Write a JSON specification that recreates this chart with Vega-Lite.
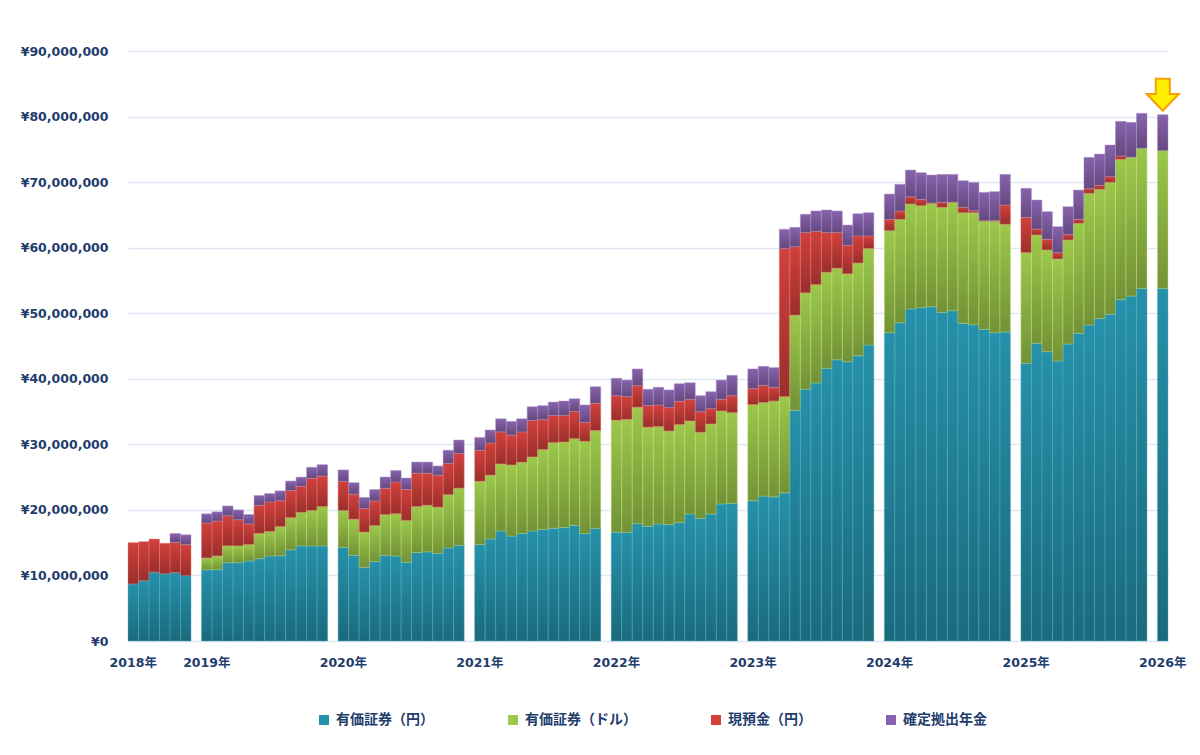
{
  "$schema": "https://vega.github.io/schema/vega-lite/v6.json",
  "width": 1040,
  "height": 590,
  "autosize": "none",
  "padding": {"left": 128, "top": 51, "right": 32, "bottom": 114},
  "background": "#ffffff",
  "config": {
    "view": {"stroke": null},
    "font": "DejaVu Sans, Noto Sans CJK JP"
  },
  "data": {
    "values": [
      {"m": "2018-07", "yen": 8.7, "usd": 0, "cash": 6.3, "dc": 0},
      {"m": "2018-08", "yen": 9.2, "usd": 0, "cash": 5.95, "dc": 0},
      {"m": "2018-09", "yen": 10.5, "usd": 0, "cash": 5.05, "dc": 0},
      {"m": "2018-10", "yen": 10.25, "usd": 0, "cash": 4.65, "dc": 0},
      {"m": "2018-11", "yen": 10.45, "usd": 0, "cash": 4.6, "dc": 1.35},
      {"m": "2018-12", "yen": 9.95, "usd": 0, "cash": 4.75, "dc": 1.5},
      {"m": "2019-01", "yen": 10.87, "usd": 1.78, "cash": 5.35, "dc": 1.4},
      {"m": "2019-02", "yen": 10.87, "usd": 2.09, "cash": 5.34, "dc": 1.4},
      {"m": "2019-03", "yen": 11.94, "usd": 2.56, "cash": 4.6, "dc": 1.5},
      {"m": "2019-04", "yen": 11.94, "usd": 2.56, "cash": 4.0, "dc": 1.5},
      {"m": "2019-05", "yen": 12.2, "usd": 2.5, "cash": 3.16, "dc": 1.44},
      {"m": "2019-06", "yen": 12.55, "usd": 3.85, "cash": 4.3, "dc": 1.5},
      {"m": "2019-07", "yen": 12.96, "usd": 3.74, "cash": 4.5, "dc": 1.3},
      {"m": "2019-08", "yen": 13.0, "usd": 4.45, "cash": 3.95, "dc": 1.5},
      {"m": "2019-09", "yen": 13.9, "usd": 4.9, "cash": 4.16, "dc": 1.44},
      {"m": "2019-10", "yen": 14.5, "usd": 5.1, "cash": 4.0, "dc": 1.4},
      {"m": "2019-11", "yen": 14.5, "usd": 5.4, "cash": 4.9, "dc": 1.7},
      {"m": "2019-12", "yen": 14.5, "usd": 6.0, "cash": 4.65, "dc": 1.75},
      {"m": "2020-01", "yen": 14.3, "usd": 5.6, "cash": 4.45, "dc": 1.75},
      {"m": "2020-02", "yen": 13.07, "usd": 5.49, "cash": 3.84, "dc": 1.75},
      {"m": "2020-03", "yen": 11.24, "usd": 5.36, "cash": 3.6, "dc": 1.7},
      {"m": "2020-04", "yen": 12.1, "usd": 5.5, "cash": 3.75, "dc": 1.75},
      {"m": "2020-05", "yen": 13.07, "usd": 6.2, "cash": 4.03, "dc": 1.7},
      {"m": "2020-06", "yen": 12.96, "usd": 6.44, "cash": 4.85, "dc": 1.75},
      {"m": "2020-07", "yen": 12.0, "usd": 6.4, "cash": 4.7, "dc": 1.76},
      {"m": "2020-08", "yen": 13.5, "usd": 7.0, "cash": 5.1, "dc": 1.7},
      {"m": "2020-09", "yen": 13.6, "usd": 7.1, "cash": 4.9, "dc": 1.7},
      {"m": "2020-10", "yen": 13.37, "usd": 7.03, "cash": 4.9, "dc": 1.4},
      {"m": "2020-11", "yen": 14.2, "usd": 8.1, "cash": 4.8, "dc": 2.0},
      {"m": "2020-12", "yen": 14.6, "usd": 8.7, "cash": 5.3, "dc": 2.06},
      {"m": "2021-01", "yen": 14.7, "usd": 9.65, "cash": 4.73, "dc": 1.98},
      {"m": "2021-02", "yen": 15.56, "usd": 9.74, "cash": 4.9, "dc": 2.0},
      {"m": "2021-03", "yen": 16.78, "usd": 10.22, "cash": 4.9, "dc": 2.0},
      {"m": "2021-04", "yen": 16.0, "usd": 10.84, "cash": 4.56, "dc": 2.1},
      {"m": "2021-05", "yen": 16.4, "usd": 10.85, "cash": 4.65, "dc": 2.0},
      {"m": "2021-06", "yen": 16.78, "usd": 11.28, "cash": 5.59, "dc": 2.09},
      {"m": "2021-07", "yen": 17.0, "usd": 12.2, "cash": 4.56, "dc": 2.14},
      {"m": "2021-08", "yen": 17.2, "usd": 13.05, "cash": 4.15, "dc": 2.05},
      {"m": "2021-09", "yen": 17.3, "usd": 13.05, "cash": 4.05, "dc": 2.2},
      {"m": "2021-10", "yen": 17.64, "usd": 13.22, "cash": 4.14, "dc": 1.96},
      {"m": "2021-11", "yen": 16.4, "usd": 14.05, "cash": 2.9, "dc": 2.65},
      {"m": "2021-12", "yen": 17.2, "usd": 14.9, "cash": 4.15, "dc": 2.55},
      {"m": "2022-01", "yen": 16.58, "usd": 17.08, "cash": 3.76, "dc": 2.65},
      {"m": "2022-02", "yen": 16.58, "usd": 17.22, "cash": 3.47, "dc": 2.53},
      {"m": "2022-03", "yen": 17.9, "usd": 17.75, "cash": 3.3, "dc": 2.55},
      {"m": "2022-04", "yen": 17.5, "usd": 15.1, "cash": 3.3, "dc": 2.5},
      {"m": "2022-05", "yen": 17.85, "usd": 14.85, "cash": 3.3, "dc": 2.7},
      {"m": "2022-06", "yen": 17.75, "usd": 14.28, "cash": 3.57, "dc": 2.7},
      {"m": "2022-07", "yen": 18.05, "usd": 14.95, "cash": 3.56, "dc": 2.69},
      {"m": "2022-08", "yen": 19.37, "usd": 14.19, "cash": 3.31, "dc": 2.53},
      {"m": "2022-09", "yen": 18.7, "usd": 13.13, "cash": 3.15, "dc": 2.44},
      {"m": "2022-10", "yen": 19.37, "usd": 13.73, "cash": 2.33, "dc": 2.6},
      {"m": "2022-11", "yen": 20.9, "usd": 14.18, "cash": 1.79, "dc": 2.93},
      {"m": "2022-12", "yen": 21.0, "usd": 13.83, "cash": 2.59, "dc": 3.11},
      {"m": "2023-01", "yen": 21.4, "usd": 14.65, "cash": 2.45, "dc": 3.0},
      {"m": "2023-02", "yen": 22.1, "usd": 14.26, "cash": 2.64, "dc": 2.9},
      {"m": "2023-03", "yen": 22.0, "usd": 14.6, "cash": 2.1, "dc": 3.0},
      {"m": "2023-04", "yen": 22.6, "usd": 14.67, "cash": 22.58, "dc": 2.95},
      {"m": "2023-05", "yen": 35.2, "usd": 14.5, "cash": 10.45, "dc": 2.95},
      {"m": "2023-06", "yen": 38.4, "usd": 14.7, "cash": 9.2, "dc": 2.8},
      {"m": "2023-07", "yen": 39.35, "usd": 15.0, "cash": 8.15, "dc": 3.1},
      {"m": "2023-08", "yen": 41.6, "usd": 14.64, "cash": 6.06, "dc": 3.45},
      {"m": "2023-09", "yen": 42.9, "usd": 13.95, "cash": 5.45, "dc": 3.3},
      {"m": "2023-10", "yen": 42.6, "usd": 13.4, "cash": 4.35, "dc": 3.1},
      {"m": "2023-11", "yen": 43.5, "usd": 14.15, "cash": 4.13, "dc": 3.4},
      {"m": "2023-12", "yen": 45.15, "usd": 14.7, "cash": 1.93, "dc": 3.55},
      {"m": "2024-01", "yen": 47.03, "usd": 15.56, "cash": 1.73, "dc": 3.86},
      {"m": "2024-02", "yen": 48.55, "usd": 15.77, "cash": 1.27, "dc": 4.07},
      {"m": "2024-03", "yen": 50.64, "usd": 16.02, "cash": 1.11, "dc": 4.07},
      {"m": "2024-04", "yen": 50.84, "usd": 15.56, "cash": 0.97, "dc": 4.06},
      {"m": "2024-05", "yen": 50.99, "usd": 15.77, "cash": 0.04, "dc": 4.28},
      {"m": "2024-06", "yen": 50.14, "usd": 16.01, "cash": 0.76, "dc": 4.27},
      {"m": "2024-07", "yen": 50.38, "usd": 16.53, "cash": 0.04, "dc": 4.23},
      {"m": "2024-08", "yen": 48.46, "usd": 16.87, "cash": 0.82, "dc": 4.06},
      {"m": "2024-09", "yen": 48.25, "usd": 17.08, "cash": 0.31, "dc": 4.32},
      {"m": "2024-10", "yen": 47.54, "usd": 16.52, "cash": 0.04, "dc": 4.34},
      {"m": "2024-11", "yen": 47.03, "usd": 17.03, "cash": 0.04, "dc": 4.44},
      {"m": "2024-12", "yen": 47.13, "usd": 16.43, "cash": 2.94, "dc": 4.68},
      {"m": "2025-01", "yen": 42.36, "usd": 16.87, "cash": 5.39, "dc": 4.43},
      {"m": "2025-02", "yen": 45.41, "usd": 16.52, "cash": 0.91, "dc": 4.43},
      {"m": "2025-03", "yen": 44.13, "usd": 15.51, "cash": 1.63, "dc": 4.22},
      {"m": "2025-04", "yen": 42.71, "usd": 15.56, "cash": 0.96, "dc": 3.97},
      {"m": "2025-05", "yen": 45.3, "usd": 15.87, "cash": 0.81, "dc": 4.27},
      {"m": "2025-06", "yen": 46.93, "usd": 16.77, "cash": 0.62, "dc": 4.47},
      {"m": "2025-07", "yen": 48.2, "usd": 20.08, "cash": 0.71, "dc": 4.79},
      {"m": "2025-08", "yen": 49.2, "usd": 19.7, "cash": 0.6, "dc": 4.78},
      {"m": "2025-09", "yen": 49.83, "usd": 20.13, "cash": 0.87, "dc": 4.83},
      {"m": "2025-10", "yen": 52.1, "usd": 21.37, "cash": 0.51, "dc": 5.29},
      {"m": "2025-11", "yen": 52.62, "usd": 21.16, "cash": 0, "dc": 5.34},
      {"m": "2025-12", "yen": 53.79, "usd": 21.36, "cash": 0, "dc": 5.34},
      {"m": "2026-01", "yen": 53.79, "usd": 21.0, "cash": 0, "dc": 5.49}
    ]
  },
  "transform": [
    {"fold": ["yen", "usd", "cash", "dc"], "as": ["key", "value"]},
    {"filter": "datum.value > 0"},
    {"calculate": "indexof(['yen', 'usd', 'cash', 'dc'], datum.key)", "as": "k"},
    {"calculate": "['有価証券（円）', '有価証券（ドル）', '現預金（円）', '確定拠出年金'][datum.k]", "as": "series"}
  ],
  "encoding": {
    "x": {
      "field": "m",
      "type": "ordinal",
      "title": null,
      "scale": {
        "paddingInner": 0,
        "paddingOuter": 0,
        "domain": [
          "2018-07", "2018-08", "2018-09", "2018-10", "2018-11", "2018-12", "g2019",
          "2019-01", "2019-02", "2019-03", "2019-04", "2019-05", "2019-06", "2019-07", "2019-08", "2019-09", "2019-10", "2019-11", "2019-12", "g2020",
          "2020-01", "2020-02", "2020-03", "2020-04", "2020-05", "2020-06", "2020-07", "2020-08", "2020-09", "2020-10", "2020-11", "2020-12", "g2021",
          "2021-01", "2021-02", "2021-03", "2021-04", "2021-05", "2021-06", "2021-07", "2021-08", "2021-09", "2021-10", "2021-11", "2021-12", "g2022",
          "2022-01", "2022-02", "2022-03", "2022-04", "2022-05", "2022-06", "2022-07", "2022-08", "2022-09", "2022-10", "2022-11", "2022-12", "g2023",
          "2023-01", "2023-02", "2023-03", "2023-04", "2023-05", "2023-06", "2023-07", "2023-08", "2023-09", "2023-10", "2023-11", "2023-12", "g2024",
          "2024-01", "2024-02", "2024-03", "2024-04", "2024-05", "2024-06", "2024-07", "2024-08", "2024-09", "2024-10", "2024-11", "2024-12", "g2025",
          "2025-01", "2025-02", "2025-03", "2025-04", "2025-05", "2025-06", "2025-07", "2025-08", "2025-09", "2025-10", "2025-11", "2025-12", "g2026",
          "2026-01"
        ]
      },
      "axis": {
        "labelAngle": 0,
        "labelExpr": "datum.value == '2018-07' || slice(datum.value, 5) == '01' ? slice(datum.value, 0, 4) + '年' : ''",
        "domain": false,
        "ticks": false,
        "tickSize": 0,
        "grid": false,
        "labelPadding": 15,
        "labelFontSize": 12.5,
        "labelFontWeight": "bold",
        "labelColor": "#1f3d6d",
        "labelOverlap": false
      }
    },
    "y": {
      "field": "value",
      "type": "quantitative",
      "title": null,
      "scale": {"domain": [0, 90], "nice": false},
      "axis": {
        "values": [0, 10, 20, 30, 40, 50, 60, 70, 80, 90],
        "labelExpr": "'¥' + format(datum.value * 1000000, ',')",
        "domain": false,
        "ticks": false,
        "tickSize": 0,
        "labelPadding": 20,
        "labelFontSize": 12.5,
        "labelFontWeight": "bold",
        "labelColor": "#1f3d6d",
        "gridColor": "#dde8f4",
        "gridWidth": 1.5
      }
    },
    "order": {"field": "k", "type": "quantitative"}
  },
  "layer": [
    {
      "mark": {"type": "bar"},
      "encoding": {
        "color": {
          "field": "series",
          "type": "nominal",
          "scale": {
            "domain": ["有価証券（円）", "有価証券（ドル）", "現預金（円）", "確定拠出年金"],
            "range": ["#2591aa", "#9cc84b", "#d2403c", "#8863ad"]
          },
          "legend": {
            "title": null,
            "orient": "none",
            "legendX": 189,
            "legendY": 662,
            "direction": "horizontal",
            "columnPadding": 72,
            "symbolType": "square",
            "symbolSize": 100,
            "symbolStrokeWidth": 0,
            "labelOffset": 5,
            "labelFont": "Noto Sans CJK JP",
            "labelFontSize": 14,
            "labelFontWeight": "bold",
            "labelColor": "#1f3d6d",
            "labelLimit": 300
          }
        }
      }
    },
    {
      "mark": {
        "type": "bar",
        "strokeWidth": 1,
        "strokeOpacity": 0.45,
        "fill": {
          "gradient": "linear",
          "x1": 0, "y1": 0, "x2": 0, "y2": 1,
          "stops": [
            {"offset": 0, "color": "rgba(0,0,0,0)"},
            {"offset": 1, "color": "rgba(0,0,0,0.27)"}
          ]
        }
      },
      "encoding": {
        "stroke": {
          "field": "series",
          "type": "nominal",
          "scale": {
            "domain": ["有価証券（円）", "有価証券（ドル）", "現預金（円）", "確定拠出年金"],
            "range": ["#4fa9c0", "#c2e070", "#e8706a", "#a68dc8"]
          },
          "legend": null
        }
      }
    },
    {
      "transform": [
        {"filter": "datum.m == '2026-01'"},
        {"aggregate": [{"op": "sum", "field": "value", "as": "total"}], "groupby": ["m"]}
      ],
      "mark": {
        "type": "point",
        "shape": "M-0.44,-1 L0.44,-1 L0.44,-0.05 L1,-0.05 L0,1 L-1,-0.05 L-0.44,-0.05 Z",
        "size": 1024,
        "filled": true,
        "fill": "#ffee00",
        "stroke": "#f2a100",
        "strokeWidth": 2,
        "opacity": 1,
        "yOffset": -20
      },
      "encoding": {
        "y": {"field": "total", "type": "quantitative"},
        "order": null
      }
    }
  ]
}
